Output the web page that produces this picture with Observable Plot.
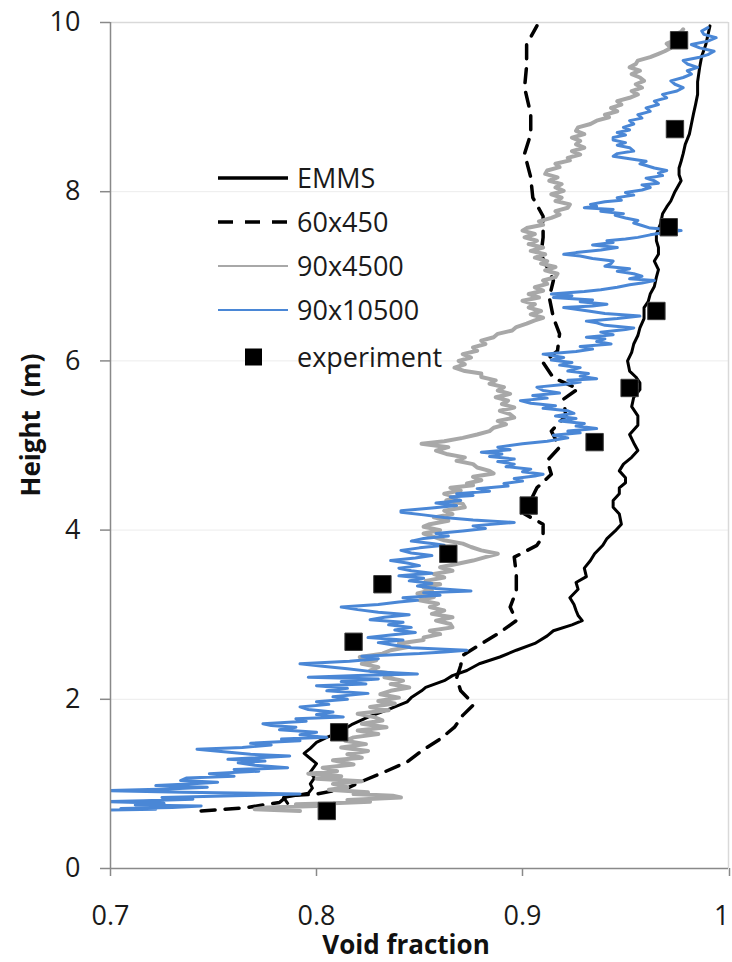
<!DOCTYPE html>
<html>
<head>
<meta charset="utf-8">
<script src="https://cdn.jsdelivr.net/npm/d3@7"></script>
<script src="https://cdn.jsdelivr.net/npm/@observablehq/plot@0.6"></script>
<style>
  html, body { margin: 0; padding: 0; background: #fff; }
  #chart { width: 732px; height: 962px; }
  svg { font-family: "Open Sans", sans-serif; }
</style>
</head>
<body>
<div id="chart"></div>
<script>
// ---- data ----
const xTicks = [0.7, 0.8, 0.9, 1];
const yTicks = [0, 2, 4, 6, 8, 10];
const seriesNames = ["EMMS", "60x450", "90x4500", "90x10500", "experiment"];

const expX = [0.805, 0.811, 0.818, 0.832, 0.864, 0.903, 0.935, 0.952, 0.965, 0.971, 0.974, 0.976];
const expY = [0.68, 1.61, 2.68, 3.36, 3.72, 4.29, 5.04, 5.68, 6.59, 7.58, 8.74, 9.79];

const emmsY = [0.77, 0.84, 0.89, 0.95, 1.00, 1.07, 1.14, 1.24, 1.30, 1.36, 1.42, 1.49, 1.55, 1.61, 1.70, 1.79, 1.88, 1.97, 2.02, 2.10, 2.14, 2.22, 2.28, 2.34, 2.42, 2.50, 2.58, 2.66, 2.75, 2.81, 2.88, 2.93, 2.99, 3.05, 3.12, 3.20, 3.30, 3.38, 3.45, 3.55, 3.64, 3.72, 3.82, 3.90, 3.99, 4.07, 4.19, 4.27, 4.35, 4.43, 4.50, 4.56, 4.62, 4.70, 4.78, 4.86, 4.94, 5.03, 5.13, 5.24, 5.35, 5.46, 5.57, 5.66, 5.74, 5.81, 5.88, 6.00, 6.10, 6.20, 6.30, 6.39, 6.50, 6.63, 6.70, 6.79, 6.88, 6.99, 7.08, 7.18, 7.26, 7.34, 7.42, 7.50, 7.62, 7.74, 7.82, 7.89, 8.00, 8.13, 8.20, 8.28, 8.36, 8.45, 8.56, 8.68, 8.80, 8.92, 9.03, 9.15, 9.30, 9.47, 9.60, 9.74, 9.85, 9.96];
const emmsX = [0.786, 0.784, 0.796, 0.798, 0.797, 0.799, 0.797, 0.800, 0.797, 0.794, 0.797, 0.800, 0.805, 0.811, 0.817, 0.825, 0.835, 0.844, 0.846, 0.851, 0.853, 0.862, 0.866, 0.873, 0.879, 0.889, 0.897, 0.906, 0.912, 0.915, 0.924, 0.929, 0.927, 0.926, 0.925, 0.923, 0.927, 0.926, 0.931, 0.930, 0.933, 0.935, 0.939, 0.941, 0.945, 0.948, 0.947, 0.944, 0.944, 0.947, 0.947, 0.950, 0.950, 0.947, 0.949, 0.953, 0.956, 0.954, 0.952, 0.956, 0.956, 0.953, 0.954, 0.957, 0.957, 0.955, 0.952, 0.951, 0.953, 0.954, 0.956, 0.957, 0.959, 0.959, 0.961, 0.962, 0.964, 0.965, 0.966, 0.964, 0.966, 0.966, 0.965, 0.965, 0.967, 0.968, 0.970, 0.972, 0.974, 0.977, 0.976, 0.976, 0.977, 0.978, 0.979, 0.981, 0.982, 0.983, 0.984, 0.985, 0.985, 0.986, 0.987, 0.989, 0.990, 0.991];

const coarseY = [0.68, 0.72, 0.78, 0.86, 0.88, 0.95, 1.02, 1.12, 1.26, 1.39, 1.53, 1.67, 1.81, 1.93, 2.00, 2.10, 2.25, 2.40, 2.52, 2.67, 2.79, 2.93, 3.09, 3.28, 3.48, 3.68, 3.82, 3.93, 4.07, 4.19, 4.35, 4.50, 4.66, 4.82, 4.98, 5.17, 5.35, 5.55, 5.67, 5.80, 5.98, 6.12, 6.32, 6.51, 6.75, 6.95, 7.26, 7.46, 7.71, 7.93, 8.17, 8.45, 8.68, 8.92, 9.23, 9.49, 9.74, 9.96];
const coarseX = [0.744, 0.766, 0.782, 0.786, 0.800, 0.815, 0.821, 0.831, 0.844, 0.851, 0.860, 0.867, 0.871, 0.876, 0.874, 0.870, 0.868, 0.870, 0.871, 0.881, 0.889, 0.897, 0.894, 0.897, 0.897, 0.896, 0.907, 0.910, 0.910, 0.901, 0.904, 0.907, 0.914, 0.912, 0.918, 0.914, 0.921, 0.920, 0.927, 0.915, 0.910, 0.917, 0.918, 0.915, 0.913, 0.915, 0.909, 0.910, 0.910, 0.905, 0.904, 0.901, 0.904, 0.904, 0.901, 0.902, 0.902, 0.907];

const grayY = [0.68, 0.70, 0.72, 0.74, 0.76, 0.77, 0.79, 0.81, 0.84, 0.86, 0.88, 0.90, 0.93, 0.96, 1.00, 1.03, 1.06, 1.09, 1.12, 1.15, 1.19, 1.23, 1.28, 1.31, 1.35, 1.39, 1.43, 1.47, 1.51, 1.55, 1.59, 1.63, 1.67, 1.71, 1.75, 1.79, 1.83, 1.87, 1.91, 1.95, 1.98, 2.02, 2.06, 2.10, 2.14, 2.18, 2.22, 2.26, 2.30, 2.34, 2.38, 2.42, 2.46, 2.50, 2.54, 2.58, 2.62, 2.66, 2.70, 2.73, 2.77, 2.81, 2.85, 2.89, 2.93, 2.97, 3.01, 3.05, 3.09, 3.13, 3.17, 3.21, 3.25, 3.29, 3.32, 3.36, 3.40, 3.44, 3.48, 3.52, 3.56, 3.60, 3.64, 3.68, 3.72, 3.76, 3.80, 3.84, 3.88, 3.92, 3.96, 4.00, 4.04, 4.07, 4.11, 4.15, 4.19, 4.23, 4.27, 4.31, 4.35, 4.39, 4.43, 4.47, 4.50, 4.53, 4.55, 4.59, 4.63, 4.67, 4.70, 4.74, 4.78, 4.82, 4.86, 4.90, 4.94, 4.98, 5.02, 5.05, 5.09, 5.13, 5.17, 5.21, 5.25, 5.29, 5.33, 5.37, 5.41, 5.45, 5.49, 5.53, 5.57, 5.61, 5.65, 5.69, 5.73, 5.77, 5.81, 5.85, 5.88, 5.92, 5.96, 6.00, 6.04, 6.08, 6.12, 6.16, 6.20, 6.24, 6.28, 6.32, 6.36, 6.40, 6.44, 6.48, 6.51, 6.55, 6.59, 6.63, 6.67, 6.71, 6.75, 6.79, 6.83, 6.87, 6.91, 6.95, 6.99, 7.03, 7.07, 7.11, 7.15, 7.18, 7.22, 7.26, 7.30, 7.34, 7.38, 7.42, 7.46, 7.50, 7.54, 7.57, 7.61, 7.65, 7.69, 7.73, 7.77, 7.81, 7.85, 7.89, 7.93, 7.97, 8.01, 8.05, 8.09, 8.13, 8.17, 8.21, 8.25, 8.29, 8.33, 8.37, 8.40, 8.44, 8.48, 8.52, 8.56, 8.60, 8.64, 8.68, 8.72, 8.76, 8.80, 8.84, 8.88, 8.91, 8.95, 8.99, 9.03, 9.07, 9.11, 9.15, 9.19, 9.23, 9.27, 9.31, 9.35, 9.39, 9.43, 9.47, 9.51, 9.55, 9.59, 9.63, 9.66, 9.70, 9.75, 9.80, 9.85, 9.89, 9.92];
const grayX = [0.792, 0.770, 0.776, 0.800, 0.790, 0.808, 0.826, 0.815, 0.841, 0.837, 0.818, 0.825, 0.806, 0.815, 0.808, 0.822, 0.800, 0.812, 0.796, 0.810, 0.803, 0.818, 0.808, 0.822, 0.815, 0.825, 0.812, 0.824, 0.814, 0.818, 0.830, 0.820, 0.834, 0.822, 0.832, 0.828, 0.820, 0.835, 0.826, 0.838, 0.830, 0.840, 0.831, 0.836, 0.845, 0.836, 0.842, 0.833, 0.838, 0.826, 0.830, 0.822, 0.829, 0.821, 0.832, 0.836, 0.845, 0.840, 0.852, 0.852, 0.860, 0.855, 0.866, 0.865, 0.858, 0.866, 0.856, 0.862, 0.855, 0.859, 0.850, 0.857, 0.849, 0.856, 0.852, 0.860, 0.853, 0.862, 0.857, 0.866, 0.860, 0.868, 0.876, 0.882, 0.888, 0.880, 0.875, 0.871, 0.862, 0.857, 0.852, 0.860, 0.852, 0.855, 0.864, 0.857, 0.866, 0.862, 0.872, 0.871, 0.863, 0.868, 0.862, 0.870, 0.865, 0.876, 0.873, 0.880, 0.876, 0.886, 0.884, 0.878, 0.876, 0.868, 0.872, 0.863, 0.858, 0.864, 0.851, 0.862, 0.871, 0.878, 0.884, 0.886, 0.892, 0.888, 0.896, 0.894, 0.889, 0.896, 0.890, 0.893, 0.887, 0.894, 0.888, 0.891, 0.884, 0.887, 0.880, 0.880, 0.872, 0.867, 0.872, 0.869, 0.875, 0.871, 0.878, 0.876, 0.882, 0.880, 0.886, 0.888, 0.895, 0.897, 0.902, 0.906, 0.910, 0.904, 0.909, 0.903, 0.906, 0.900, 0.908, 0.903, 0.910, 0.906, 0.912, 0.910, 0.916, 0.917, 0.911, 0.916, 0.909, 0.912, 0.906, 0.911, 0.904, 0.910, 0.903, 0.907, 0.901, 0.906, 0.900, 0.902, 0.910, 0.908, 0.914, 0.918, 0.916, 0.922, 0.923, 0.916, 0.919, 0.914, 0.920, 0.916, 0.919, 0.913, 0.917, 0.911, 0.912, 0.918, 0.916, 0.923, 0.922, 0.928, 0.924, 0.930, 0.926, 0.928, 0.924, 0.930, 0.926, 0.927, 0.933, 0.936, 0.942, 0.940, 0.946, 0.943, 0.948, 0.946, 0.952, 0.956, 0.953, 0.958, 0.955, 0.959, 0.957, 0.953, 0.957, 0.952, 0.955, 0.956, 0.962, 0.966, 0.969, 0.972, 0.970, 0.975, 0.973, 0.977, 0.978];

const blueY = [0.69, 0.70, 0.71, 0.72, 0.74, 0.75, 0.77, 0.79, 0.80, 0.82, 0.84, 0.86, 0.88, 0.89, 0.90, 0.92, 0.94, 0.96, 0.98, 1.00, 1.02, 1.04, 1.07, 1.09, 1.12, 1.15, 1.17, 1.19, 1.22, 1.25, 1.27, 1.29, 1.31, 1.33, 1.35, 1.38, 1.41, 1.43, 1.46, 1.48, 1.51, 1.53, 1.55, 1.58, 1.61, 1.64, 1.67, 1.69, 1.71, 1.74, 1.77, 1.79, 1.82, 1.85, 1.88, 1.91, 1.94, 1.97, 2.00, 2.03, 2.07, 2.10, 2.13, 2.16, 2.18, 2.21, 2.24, 2.26, 2.28, 2.30, 2.33, 2.36, 2.39, 2.42, 2.45, 2.48, 2.51, 2.54, 2.56, 2.58, 2.61, 2.64, 2.67, 2.70, 2.73, 2.76, 2.79, 2.82, 2.85, 2.88, 2.91, 2.94, 2.97, 3.00, 3.03, 3.06, 3.09, 3.12, 3.15, 3.17, 3.20, 3.23, 3.26, 3.28, 3.31, 3.34, 3.37, 3.40, 3.43, 3.46, 3.49, 3.52, 3.55, 3.58, 3.61, 3.64, 3.67, 3.70, 3.73, 3.76, 3.79, 3.82, 3.84, 3.87, 3.90, 3.93, 3.96, 3.99, 4.02, 4.05, 4.09, 4.12, 4.15, 4.18, 4.21, 4.23, 4.26, 4.29, 4.32, 4.35, 4.39, 4.41, 4.43, 4.46, 4.49, 4.52, 4.55, 4.58, 4.61, 4.64, 4.66, 4.69, 4.72, 4.75, 4.78, 4.81, 4.84, 4.87, 4.90, 4.92, 4.95, 4.98, 5.02, 5.05, 5.09, 5.12, 5.15, 5.17, 5.20, 5.23, 5.26, 5.29, 5.32, 5.35, 5.38, 5.41, 5.44, 5.47, 5.50, 5.53, 5.56, 5.59, 5.62, 5.65, 5.69, 5.72, 5.75, 5.77, 5.79, 5.82, 5.85, 5.88, 5.92, 5.95, 5.98, 6.01, 6.04, 6.08, 6.11, 6.14, 6.17, 6.20, 6.23, 6.26, 6.28, 6.31, 6.34, 6.37, 6.39, 6.42, 6.45, 6.47, 6.50, 6.53, 6.56, 6.59, 6.61, 6.63, 6.65, 6.67, 6.70, 6.72, 6.75, 6.77, 6.79, 6.82, 6.84, 6.87, 6.90, 6.92, 6.95, 6.97, 7.00, 7.03, 7.06, 7.09, 7.12, 7.15, 7.18, 7.21, 7.24, 7.26, 7.28, 7.31, 7.34, 7.37, 7.40, 7.42, 7.44, 7.46, 7.49, 7.52, 7.54, 7.57, 7.60, 7.63, 7.66, 7.69, 7.72, 7.74, 7.77, 7.79, 7.81, 7.83, 7.85, 7.88, 7.90, 7.93, 7.96, 7.99, 8.02, 8.05, 8.08, 8.10, 8.13, 8.16, 8.19, 8.22, 8.25, 8.28, 8.31, 8.33, 8.36, 8.39, 8.42, 8.45, 8.48, 8.52, 8.55, 8.58, 8.61, 8.64, 8.67, 8.70, 8.73, 8.76, 8.80, 8.84, 8.87, 8.91, 8.95, 8.99, 9.03, 9.07, 9.11, 9.15, 9.19, 9.23, 9.27, 9.31, 9.35, 9.39, 9.43, 9.47, 9.51, 9.55, 9.59, 9.62, 9.66, 9.70, 9.74, 9.78, 9.82, 9.86, 9.90, 9.94];
const blueX = [0.698, 0.722, 0.705, 0.730, 0.744, 0.712, 0.726, 0.698, 0.716, 0.740, 0.725, 0.760, 0.792, 0.770, 0.735, 0.698, 0.728, 0.747, 0.722, 0.738, 0.752, 0.734, 0.737, 0.760, 0.748, 0.772, 0.760, 0.786, 0.770, 0.762, 0.775, 0.757, 0.772, 0.787, 0.768, 0.755, 0.742, 0.764, 0.778, 0.768, 0.792, 0.783, 0.805, 0.792, 0.800, 0.782, 0.790, 0.778, 0.774, 0.795, 0.790, 0.813, 0.800, 0.808, 0.796, 0.792, 0.806, 0.800, 0.815, 0.808, 0.825, 0.805, 0.815, 0.800, 0.824, 0.812, 0.830, 0.796, 0.820, 0.849, 0.826, 0.815, 0.803, 0.792, 0.816, 0.830, 0.822, 0.850, 0.862, 0.873, 0.846, 0.838, 0.830, 0.842, 0.825, 0.836, 0.848, 0.838, 0.846, 0.835, 0.842, 0.826, 0.833, 0.845, 0.830, 0.820, 0.812, 0.830, 0.840, 0.849, 0.842, 0.860, 0.852, 0.875, 0.858, 0.849, 0.856, 0.845, 0.852, 0.840, 0.856, 0.846, 0.840, 0.850, 0.844, 0.836, 0.848, 0.856, 0.846, 0.841, 0.850, 0.862, 0.857, 0.846, 0.852, 0.864, 0.858, 0.871, 0.882, 0.876, 0.896, 0.876, 0.862, 0.852, 0.841, 0.841, 0.856, 0.868, 0.858, 0.870, 0.865, 0.876, 0.868, 0.884, 0.878, 0.893, 0.891, 0.900, 0.896, 0.906, 0.910, 0.900, 0.904, 0.892, 0.896, 0.888, 0.896, 0.884, 0.890, 0.880, 0.894, 0.888, 0.900, 0.912, 0.922, 0.915, 0.928, 0.922, 0.936, 0.926, 0.930, 0.918, 0.926, 0.916, 0.925, 0.922, 0.910, 0.916, 0.904, 0.899, 0.912, 0.905, 0.918, 0.910, 0.907, 0.920, 0.928, 0.922, 0.936, 0.928, 0.932, 0.922, 0.928, 0.918, 0.924, 0.914, 0.920, 0.910, 0.926, 0.934, 0.928, 0.943, 0.936, 0.940, 0.931, 0.944, 0.938, 0.950, 0.954, 0.940, 0.936, 0.931, 0.946, 0.957, 0.940, 0.932, 0.926, 0.920, 0.934, 0.941, 0.928, 0.934, 0.915, 0.924, 0.914, 0.930, 0.938, 0.946, 0.952, 0.958, 0.964, 0.952, 0.958, 0.954, 0.946, 0.952, 0.940, 0.943, 0.944, 0.934, 0.928, 0.920, 0.926, 0.938, 0.946, 0.934, 0.944, 0.941, 0.950, 0.956, 0.962, 0.970, 0.977, 0.962, 0.958, 0.954, 0.956, 0.950, 0.945, 0.949, 0.938, 0.944, 0.930, 0.936, 0.933, 0.940, 0.948, 0.946, 0.954, 0.950, 0.958, 0.962, 0.958, 0.966, 0.964, 0.960, 0.968, 0.966, 0.970, 0.964, 0.960, 0.957, 0.960, 0.952, 0.944, 0.946, 0.954, 0.952, 0.946, 0.950, 0.944, 0.944, 0.950, 0.946, 0.952, 0.949, 0.954, 0.952, 0.958, 0.956, 0.962, 0.960, 0.966, 0.964, 0.970, 0.968, 0.975, 0.978, 0.974, 0.972, 0.978, 0.982, 0.980, 0.985, 0.980, 0.978, 0.986, 0.990, 0.993, 0.986, 0.982, 0.990, 0.994, 0.988, 0.987, 0.990];

// ---- build tables ----
const toRows = (xs, ys) => xs.map((x, i) => ({x, y: ys[i]}));
const emms = toRows(emmsX, emmsY);
const coarse = toRows(coarseX, coarseY);
const gray = toRows(grayX, grayY);
const blue = toRows(blueX, blueY);
const exp = toRows(expX, expY);

const FONT = "'Open Sans', sans-serif";
const axisGray = "#898989";
const colBlue = "#4a87d6";
const colGray = "#a8a8a8";
const fmtX = d => d === 1 ? "1" : d3.format(".1f")(d);

const plot = Plot.plot({
  width: 732,
  height: 962,
  marginLeft: 110,
  marginRight: 4,
  marginTop: 22,
  marginBottom: 94,
  style: {fontFamily: FONT, fontSize: "27px", color: "#1a1a1a", background: "#fff"},
  x: {domain: [0.7, 1], label: null},
  y: {domain: [0, 10], label: null},
  marks: [
    Plot.gridY(yTicks.filter(d => d > 0 && d < 10), {stroke: "#ececec", strokeOpacity: 1, strokeWidth: 1}),
    Plot.ruleY([10], {stroke: "#d9d9d9", strokeWidth: 1.5}),
    Plot.ruleX([1], {stroke: "#d9d9d9", strokeWidth: 1.5}),
    Plot.line(emms, {x: "x", y: "y", stroke: "#000", strokeWidth: 3, clip: true}),
    Plot.line(coarse, {x: "x", y: "y", stroke: "#000", strokeWidth: 3.5, strokeDasharray: "14,10", clip: true}),
    Plot.line(gray, {x: "x", y: "y", stroke: colGray, strokeWidth: 4, clip: true}),
    Plot.line(blue, {x: "x", y: "y", stroke: colBlue, strokeWidth: 3, clip: true}),
    Plot.dot(exp, {x: "x", y: "y", symbol: "square", r: 9.8, fill: "#000", stroke: "#3a3a3a", strokeWidth: 1}),
    Plot.ruleX([0.7], {stroke: axisGray, strokeWidth: 1.5}),
    Plot.ruleY([0], {stroke: axisGray, strokeWidth: 1.5}),
    Plot.axisY(yTicks, {tickSize: 10, tickPadding: 20, stroke: axisGray, strokeWidth: 1.5, fill: "#1a1a1a", label: null, fontSize: 27,
      tickFormat: d => String(d)}),
    Plot.axisX(xTicks.filter(d => d < 1), {tickSize: 8, tickPadding: 29, stroke: axisGray, strokeWidth: 1.5, fill: "#1a1a1a", label: null, fontSize: 27,
      tickFormat: fmtX}),
    Plot.axisX(xTicks.filter(d => d === 1), {tickSize: 8, tickPadding: 29, stroke: axisGray, strokeWidth: 1.5, fill: "#1a1a1a", label: null, fontSize: 27,
      tickFormat: fmtX, textAnchor: "end", dx: 1})
  ]
});

document.getElementById("chart").appendChild(plot);

// ---- axis titles and legend ----
const svg = d3.select(plot);
svg.append("text")
  .attr("x", 406).attr("y", 954)
  .attr("text-anchor", "middle")
  .attr("font-family", FONT).attr("font-weight", "bold").attr("font-size", 26)
  .attr("fill", "#111")
  .text("Void fraction");
svg.append("text")
  .attr("transform", "translate(40,425) rotate(-90)")
  .attr("text-anchor", "middle")
  .attr("font-family", FONT).attr("font-weight", "bold").attr("font-size", 26)
  .attr("fill", "#111")
  .text("Height\u00a0\u00a0(m)");

const legendRows = [
  {name: seriesNames[0], y: 178, kind: "solid"},
  {name: seriesNames[1], y: 222, kind: "dash"},
  {name: seriesNames[2], y: 266, kind: "gray"},
  {name: seriesNames[3], y: 310, kind: "blue"},
  {name: seriesNames[4], y: 357, kind: "square"}
];
const lg = svg.append("g").attr("class", "legend");
legendRows.forEach(r => {
  if (r.kind === "square") {
    lg.append("rect").attr("x", 245).attr("y", r.y - 8.5).attr("width", 17).attr("height", 17).attr("fill", "#000");
  } else {
    const ln = lg.append("line").attr("x1", 218).attr("x2", 288).attr("y1", r.y).attr("y2", r.y);
    if (r.kind === "solid") ln.attr("stroke", "#000").attr("stroke-width", 3.5);
    if (r.kind === "dash") ln.attr("stroke", "#000").attr("stroke-width", 3.5).attr("stroke-dasharray", "15,12");
    if (r.kind === "gray") ln.attr("stroke", colGray).attr("stroke-width", 2);
    if (r.kind === "blue") ln.attr("stroke", colBlue).attr("stroke-width", 2);
  }
  lg.append("text").attr("x", 297).attr("y", r.y).attr("dy", "0.36em")
    .attr("text-anchor", "start")
    .attr("font-family", FONT).attr("font-size", 27).attr("fill", "#1a1a1a")
    .text(r.name);
});
</script>
</body>
</html>
